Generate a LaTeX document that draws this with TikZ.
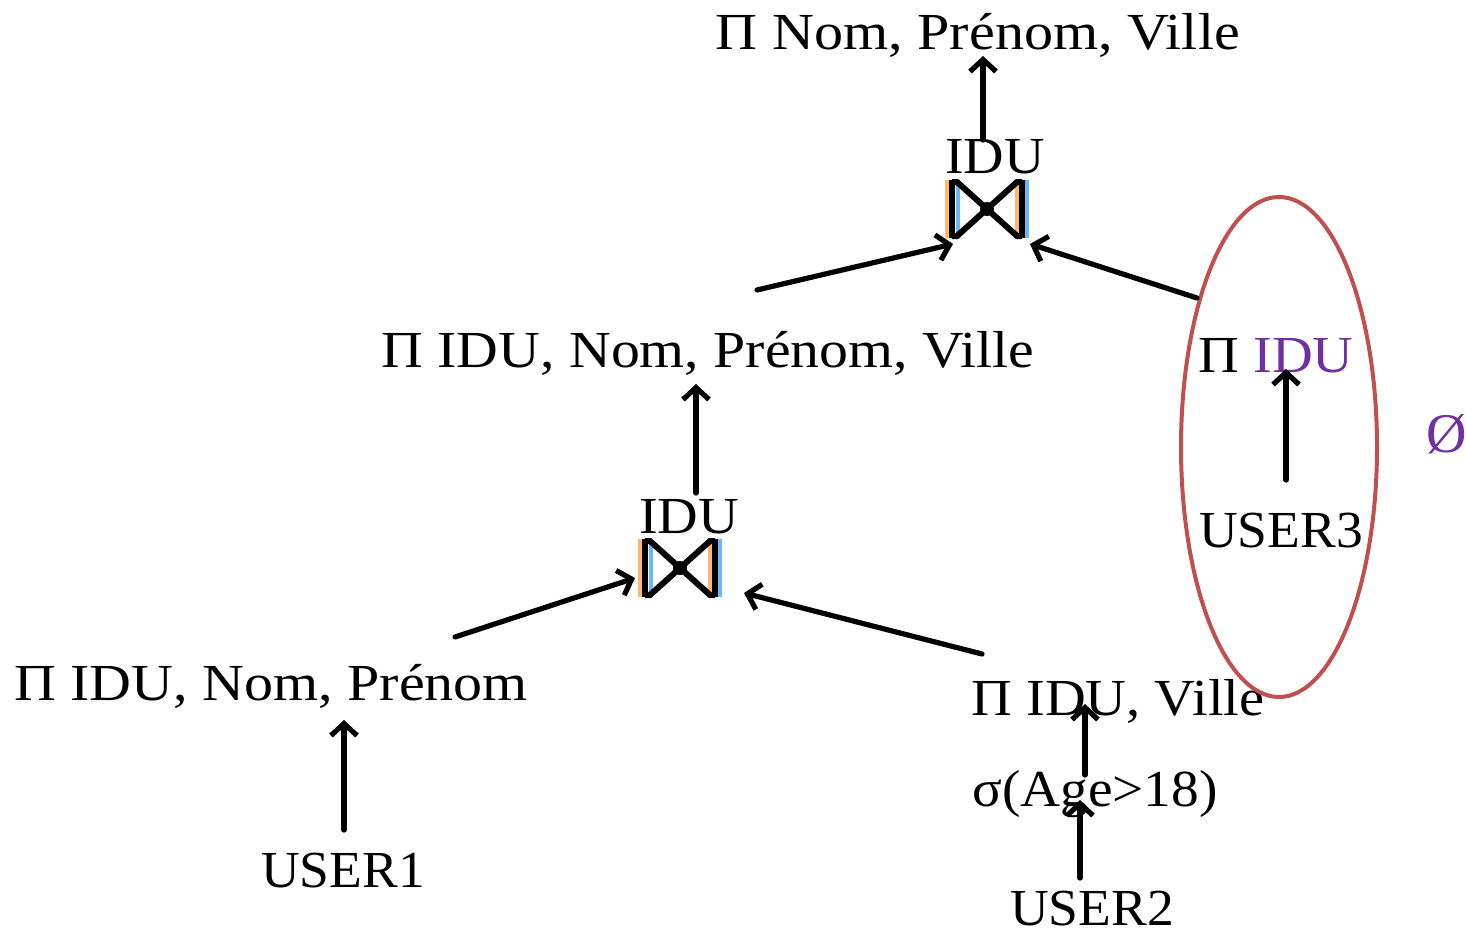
\documentclass[tikz,border=0pt]{standalone}
\usepackage{fontspec}
\usepackage{graphicx}
\setmainfont{Liberation Serif}
\usetikzlibrary{arrows.meta}
\definecolor{ovalred}{HTML}{C0504D}
\definecolor{idupurple}{HTML}{7030A0}
\definecolor{fringeorange}{HTML}{FDB86A}
\definecolor{fringeblue}{HTML}{6CB8F5}
\newcommand\hs[2]{\scalebox{#1}[1]{#2}}
\begin{document}
\begin{tikzpicture}[x=0.5pt,y=-0.5pt,
  lbl/.style={font=\fontsize{26}{30}\selectfont, inner sep=0pt, anchor=base},
  conn/.style={line width=2.6pt, line cap=round, -{Straight Barb[length=6pt,width=13pt]}},
  oval/.style={draw=ovalred, line width=2pt},
  pics/joinsym/.style={code={
    \draw[fringeorange, line width=1.6pt] (-40,-29) -- (-40,29) (30,-29) -- (30,29);
    \draw[fringeblue, line width=1.6pt] (-29,-26) -- (-29,29) (40,-29) -- (40,29);
    \draw[black, line width=3pt] (-35,-29) -- (-35,29) (35,-29) -- (35,29);
    \draw[black, line width=3pt] (-35,-27) -- (-30,-27) -- (30,27) -- (35,27)
                                 (-35,27) -- (-30,27) -- (30,-27) -- (35,-27);
    \fill[black] (0,0) circle [radius=7];
  }}]
\useasboundingbox (0,0) rectangle (1466,931);

% text nodes
\node[lbl] (top)   at (978,50)  {\hs{1.117}{Π Nom, Prénom, Ville}};
\node[lbl] (idu1)  at (995,173) {\hs{1.077}{IDU}};
\node[lbl] (mid)   at (708,367) {\hs{1.111}{Π IDU, Nom, Prénom, Ville}};
\node[lbl] (piidu) at (1276,372) {\hs{1.086}{Π \textcolor{idupurple}{IDU}}};
\node[lbl] (user3) at (1281,547) {\hs{1.03}{USER3}};
\node[lbl, text=idupurple, font=\fontsize{28}{30}\selectfont] (empty) at (1447,452) {Ø};
\node[lbl] (idu2)  at (689,533) {\hs{1.08}{IDU}};
\node[lbl] (left)  at (271,700) {\hs{1.115}{Π IDU, Nom, Prénom}};
\node[lbl] (ville) at (1118,715) {\hs{1.086}{Π IDU, Ville}};
\node[lbl] (sigma) at (1095,806) {\hs{1.065}{σ(Age>18)}};
\node[lbl] (user1) at (343,887) {\hs{1.03}{USER1}};
\node[lbl] (user2) at (1092,925) {\hs{1.03}{USER2}};

% join symbols
\coordinate (j1) at (987,209);
\coordinate (j2) at (680,568);
\pic at (j1) {joinsym};
\pic at (j2) {joinsym};

% oval
\coordinate (ring) at (1279,447);
\draw[oval] (ring) ellipse [x radius=98, y radius=250];

% connector end points
\coordinate (a1s) at (983,140);  \coordinate (a1e) at (983,56);
\coordinate (a2s) at (757,290);  \coordinate (a2e) at (953,244);
\coordinate (a3s) at (1197,298); \coordinate (a3e) at (1030,244);
\coordinate (a4s) at (696,493);  \coordinate (a4e) at (696,384);
\coordinate (a5s) at (455,637);  \coordinate (a5e) at (635,578);
\coordinate (a6s) at (982,654);  \coordinate (a6e) at (744,593);
\coordinate (a7s) at (344,830);  \coordinate (a7e) at (344,720);
\coordinate (a8s) at (1085,775); \coordinate (a8e) at (1085,704);
\coordinate (a9s) at (1080,878); \coordinate (a9e) at (1080,800);
\coordinate (a10s) at (1286,480); \coordinate (a10e) at (1286,369);

\draw[conn] (a1s) -- (a1e);
\draw[conn] (a2s) -- (a2e);
\draw[conn] (a3s) -- (a3e);
\draw[conn] (a4s) -- (a4e);
\draw[conn] (a5s) -- (a5e);
\draw[conn] (a6s) -- (a6e);
\draw[conn] (a7s) -- (a7e);
\draw[conn] (a8s) -- (a8e);
\draw[conn] (a9s) -- (a9e);
\draw[conn] (a10s) -- (a10e);
\end{tikzpicture}
\end{document}
